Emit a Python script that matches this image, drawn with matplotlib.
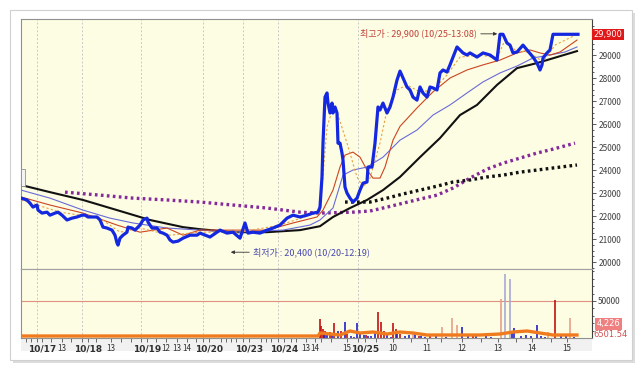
import matplotlib

matplotlib.use("Agg")

import matplotlib.pyplot as plt
from matplotlib.patches import Rectangle
from matplotlib.transforms import blended_transform_factory

plt.rcParams["font.family"] = ["Noto Sans CJK KR", "DejaVu Sans"]

# ---- data (x = tick-bar index) ----
price_x = [0, 6, 9, 12, 16, 17, 21, 26, 29, 34, 37, 41, 46, 51, 56, 61, 64, 67, 76, 79,
           82, 86, 91, 94, 96, 97, 99, 102, 106, 107, 111, 114, 119, 122, 126, 127, 131, 136, 139, 142,
           146, 149, 152, 157, 162, 169, 176, 179, 189, 199, 206, 212, 219, 224, 227, 232, 239, 246, 252, 259,
           266, 272, 279, 286, 292, 297, 299, 301, 302, 304, 306, 307, 309, 311, 312, 314, 316, 317, 319, 321,
           322, 324, 326, 329, 332, 336, 339, 342, 346, 347, 351, 354, 357, 359, 362, 366, 369, 372, 376, 379,
           382, 386, 389, 392, 396, 399, 402, 406, 409, 412, 416, 419, 422, 426, 429, 432, 436, 439, 442, 446,
           449, 456, 462, 469, 476, 479, 482, 486, 489, 492, 496, 502, 506, 512, 516, 519, 521, 522, 526, 529,
           532, 557]
price = [22780, 22700, 22560, 22390, 22480, 22260, 22130, 22170, 22040, 22130, 22170, 22040, 21830, 21910, 21960, 22040, 22040, 21960, 21960, 21830,
         21520, 21480, 21390, 21170, 20830, 20740, 21040, 21170, 21300, 21520, 21480, 21390, 21610, 21830, 21910, 21740, 21480, 21480, 21300, 21260,
         21170, 20960, 20870, 20910, 21040, 21170, 21170, 21260, 21090, 21390, 21260, 21300, 21040, 21700, 21260, 21300, 21260, 21390, 21480, 21610,
         21910, 22040, 21960, 22040, 22130, 22170, 22390, 23700, 25170, 27170, 27350, 26910, 26480, 26910, 26480, 26740, 26480, 25170, 25170, 24740,
         24430, 23260, 23000, 22780, 22610, 22780, 23130, 23430, 23480, 24130, 24130, 25170, 26740, 26610, 26910, 26480, 26740, 27170, 27910, 28300,
         28000, 27610, 27480, 27170, 27040, 27610, 27350, 27170, 27610, 27570, 27480, 28220, 28350, 28260, 28570, 28910, 29350, 29220, 29090, 29000,
         29090, 28910, 29090, 29000, 28780, 29900, 29900, 29520, 29430, 29090, 29130, 29430, 29220, 28910, 28650, 28350, 28570, 28870, 29090, 29220,
         29900, 29900]

ma_short_x = [0, 29, 62, 96, 119, 146, 162, 179, 212, 246, 272, 296, 302, 312, 319, 324, 332, 339, 346, 352,
              359, 364, 372, 379, 396, 412, 429, 446, 462, 479, 496, 509, 519, 529, 539, 556]
ma_short = [22830, 22480, 22130, 21610, 21300, 21480, 21170, 21390, 21390, 21390, 21700, 21960, 22260, 23130, 24130, 24650, 24780, 24560, 24000, 23650,
            23650, 24130, 25300, 25900, 26700, 27400, 28000, 28350, 28570, 28780, 29090, 29220, 29090, 29000, 29130, 29650]

ma_mid_x = [0, 29, 62, 89, 112, 146, 179, 212, 262, 289, 299, 312, 322, 332, 346, 362, 379, 396, 412, 429,
            446, 462, 479, 496, 512, 529, 544, 556]
ma_mid = [23130, 22780, 22260, 21910, 21700, 21480, 21390, 21300, 21390, 21610, 21830, 22350, 23780, 24000, 24130, 24560, 25300, 25740, 26390, 26830,
          27350, 27830, 28220, 28520, 28870, 29000, 29130, 29350]

ma_long_x = [0, 29, 62, 96, 129, 162, 179, 212, 246, 279, 299, 312, 329, 346, 362, 379, 399, 419, 439, 456,
             476, 496, 516, 536, 556]
ma_long = [23350, 23040, 22700, 22260, 21830, 21520, 21430, 21300, 21300, 21390, 21560, 21960, 22350, 22700, 23130, 23700, 24560, 25390, 26390, 26830,
           27700, 28430, 28650, 28910, 29170]

ma_fast_x = [0, 39, 79, 99, 119, 149, 179, 219, 259, 289, 299, 306, 312, 317, 326, 336, 342, 349, 359, 366,
             376, 386, 399, 412, 426, 439, 459, 476, 484, 494, 509, 522, 534, 556]
ma_fast = [22700, 22170, 21910, 21300, 21480, 21170, 21300, 21300, 21610, 22040, 22170, 25870, 26700, 26390, 25170, 23700, 23260, 23650, 25170, 26610,
           27480, 27700, 27390, 27480, 28130, 28910, 29000, 28870, 29650, 29220, 29090, 28700, 29430, 29900]

ma_120_x = [44, 79, 112, 146, 179, 212, 246, 279, 299, 332, 349, 366, 382, 399, 416, 432, 449, 466, 482, 499,
            516, 532, 554]
ma_120 = [23040, 22910, 22780, 22700, 22610, 22480, 22350, 22170, 22130, 22170, 22220, 22390, 22560, 22740, 22910, 23220, 23650, 24040, 24300, 24520,
          24740, 24910, 25170]

ma_240_x = [324, 349, 366, 382, 399, 416, 432, 449, 466, 482, 499, 516, 532, 556]
ma_240 = [22610, 22610, 22780, 22960, 23130, 23300, 23480, 23570, 23700, 23780, 23910, 24000, 24090, 24220]

red_x = [299, 300, 302, 304, 309, 313, 320, 357, 360, 363, 372, 375, 379, 409, 534, 326, 345, 398, 452]
red_v = [25000, 16000, 12000, 9000, 8000, 20000, 10000, 35000, 21000, 9000, 20000, 12000, 6000, 5000, 51000, 5000, 4000, 3000, 4000]
pale_red_x = [392, 421, 431, 436, 480, 527, 549]
pale_red_v = [7000, 15000, 27000, 17000, 53000, 8000, 27000]
blue_x = [303, 306, 311, 317, 324, 336, 339, 354, 376, 394, 441, 491, 493, 516,
          330, 333, 343, 347, 350, 366, 370, 384, 388, 400, 404, 415, 425, 447, 455, 465, 470, 500, 505, 510,
          520, 524, 540, 545, 553]
blue_v = [8000, 7000, 6000, 10000, 21000, 20000, 8000, 7000, 8000, 5000, 15000, 10000, 14000, 17000,
          3000, 2000, 4000, 2500, 2500, 3500, 2000, 3000, 4000, 2500, 2000, 3000, 2000, 3500, 2500, 3000, 2000, 3000, 4500, 2500,
          3000, 2000, 2500, 3500, 2000]
pale_blue_x = [484, 489]
pale_blue_v = [86500, 79700]

vol_ma_x = [0, 297, 299, 319, 329, 339, 352, 366, 379, 392, 406, 432, 459, 479, 492, 506, 519, 532, 556]
vol_ma = [2700, 2700, 6750, 4050, 9460, 6750, 8100, 5400, 8100, 6750, 4050, 4050, 4050, 5400, 8100, 9460, 6750, 4050, 4050]

day_lines = [16, 61, 120, 182, 222, 257, 337]
tick_pos = [21, 41, 67, 90, 126, 145, 156, 166, 188, 228, 263, 285, 294, 326, 344, 372, 406, 441, 477, 511, 546]
tick_lab = ["10/17", "13", "10/18", "13", "10/19", "12", "13", "14", "10/20", "10/23", "10/24", "13", "14", "15",
            "10/25", "10", "11", "12", "13", "14", "15"]

W, H = 643, 370


def box(x0, y0, x1, y1):
    return [x0 / W, 1 - y1 / H, (x1 - x0) / W, (y1 - y0) / H]


fig = plt.figure(figsize=(W / 100, H / 100), dpi=100)
fig.patch.set_facecolor("white")

# card with shadow
fig.add_artist(Rectangle((13 / W, 1 - 363 / H), 622 / W, 350 / H, transform=fig.transFigure,
                         facecolor="#dcdcdc", edgecolor="none", zorder=-3))
fig.add_artist(Rectangle((10 / W, 1 - 360 / H), 622 / W, 350 / H, transform=fig.transFigure,
                         facecolor="white", edgecolor="#d0d0d0", lw=0.8, zorder=-2))
fig.add_artist(Rectangle((21 / W, 1 - 351 / H), 571 / W, 13 / H, transform=fig.transFigure,
                         facecolor="#f1f1f1", edgecolor="none", zorder=-1))

bg = "#fdfde3"
ax = fig.add_axes(box(21, 19, 592, 269))
axv = fig.add_axes(box(21, 269, 592, 338), sharex=ax)
for a in (ax, axv):
    a.set_facecolor(bg)
    for s in a.spines.values():
        s.set_color("#909090")
        s.set_linewidth(0.8)
    a.spines["right"].set_color("#404040")
    for d in day_lines:
        a.axvline(d, color="#c8c8c8", lw=0.7, ls=(0, (2, 2)), zorder=0)
    a.yaxis.tick_right()
    a.tick_params(axis="y", direction="out", length=3, width=0.6, colors="#404040",
                  labelsize=6, pad=1.5, which="both")

ax.set_xlim(0, 571)
ax.set_ylim(19700, 30565)

# small scroll marker at the left edge
fig.add_artist(Rectangle((21 / W, 1 - 186 / H), 4 / W, 17 / H, transform=fig.transFigure,
                         facecolor="#f4f4f4", edgecolor="#909090", lw=0.6, zorder=5))

# moving averages and price
ax.plot(ma_120_x, ma_120, color="#852a9a", lw=2.4, ls=(0, (0.8, 1.0)), zorder=2)
ax.plot(ma_240_x, ma_240, color="#111111", lw=2.4, ls=(0, (0.8, 1.0)), zorder=2)
ax.plot(ma_long_x, ma_long, color="#111111", lw=1.5, zorder=3)
ax.plot(ma_mid_x, ma_mid, color="#6a6ad8", lw=0.8, zorder=3)
ax.plot(ma_short_x, ma_short, color="#cc4422", lw=0.8, zorder=3)
ax.plot(ma_fast_x, ma_fast, color="#e8a040", lw=0.8, ls=(0, (2, 2)), zorder=3)
ax.plot(price_x, price, color="#1428e0", lw=2.3, zorder=4)

ax.set_yticks(range(20000, 30000, 1000))
ax.set_yticks(range(19750, 30500, 250), minor=True)
ax.tick_params(axis="y", which="minor", length=1.5)
ax.tick_params(axis="x", bottom=False, labelbottom=False)

ytr = blended_transform_factory(ax.transAxes, ax.transData)
ax.text(1.003, max(price), "29,900", transform=ytr, fontsize=6, color="white", va="center", ha="left",
        family=["DejaVu Sans"],
        bbox=dict(boxstyle="square,pad=0.15", facecolor="#e01818", edgecolor="none"), zorder=6)

# high / low annotations
ax.annotate("", xy=(479, 29920), xytext=(457, 29920),
            arrowprops=dict(arrowstyle="-|>", color="#333333", lw=0.6, mutation_scale=5))
ax.text(456, 29920, "최고가 : 29,900 (10/25-13:08)", fontsize=6.5, color="#c0403a", ha="right", va="center")
ax.annotate("", xy=(207, 20430), xytext=(231, 20430),
            arrowprops=dict(arrowstyle="-|>", color="#333333", lw=0.6, mutation_scale=5))
ax.text(232, 20430, "최저가 : 20,400 (10/20-12:19)", fontsize=6.5, color="#4848b0", ha="left", va="center")

# volume panel
axv.set_ylim(0, 93200)
axv.axhline(50000, color="#e09080", lw=0.8, zorder=1)
axv.vlines(pale_blue_x, 0, pale_blue_v, color="#a8a8d8", lw=1.2, zorder=2)
axv.vlines(pale_red_x, 0, pale_red_v, color="#e8a088", lw=1.2, zorder=2)
axv.vlines(red_x, 0, red_v, color="#c41010", lw=1.2, zorder=2)
axv.vlines(blue_x, 0, blue_v, color="#2020c8", lw=1.2, zorder=2)
axv.plot(vol_ma_x, vol_ma, color="#f07a1e", lw=2.4, zorder=3)
axv.set_yticks([50000])
axv.set_yticks(range(10000, 93000, 10000), minor=True)
axv.tick_params(axis="y", which="minor", length=1.5)
axv.spines["top"].set_color("#a0a0a0")

vtr = blended_transform_factory(axv.transAxes, axv.transData)
axv.text(1.008, 19000, "4,226", transform=vtr, fontsize=6, color="white", va="center", ha="left",
         family=["DejaVu Sans"],
         bbox=dict(boxstyle="square,pad=0.2", facecolor="#f08080", edgecolor="none"))
axv.text(1.002, 4500, "6501.54", transform=vtr, fontsize=6, color="#d05050", va="center", ha="left",
         family=["DejaVu Sans"])

axv.set_xticks(tick_pos)
axv.set_xticklabels(tick_lab)
axv.set_xticks(day_lines + [5, 10, 30, 50, 75, 100, 110, 135, 175, 200, 205, 210, 215, 240, 245, 250,
                            270, 275, 300, 310, 355, 390, 420, 460, 495, 530], minor=True)
axv.tick_params(axis="x", which="both", direction="out", length=3, width=0.6, colors="#505050",
                labelsize=6.5, pad=1.5)
for t in axv.get_xticklabels():
    t.set_color("#303030")
    if "/" in t.get_text():
        t.set_fontweight("bold")
        t.set_family(["DejaVu Sans"])
    else:
        t.set_fontsize(5.8)

fig.savefig("out.png", dpi=100)
